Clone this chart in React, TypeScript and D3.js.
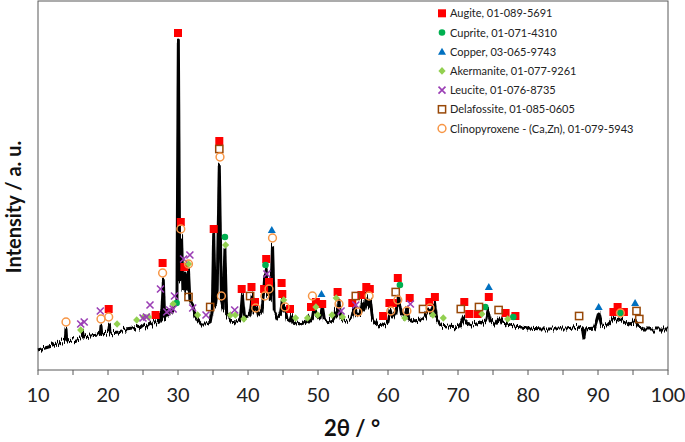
import React from "react";
import * as d3 from "d3";

// XRD trace: [2θ, intensity (a.u.)]
const trace: [number, number][] = [
  [10, 20], [11, 22], [12, 24], [13, 27], [13.9, 29], [14.0, 40], [14.1, 29], [15, 30], [16, 32], [16.3, 33], [16.4, 38], [16.5, 33],
  [17.5, 34], [18.5, 35], [18.9, 36], [19.0, 44], [19.1, 36], [20.0, 37], [20.2, 45], [20.3, 37], [21.5, 38], [22.5, 40], [23.5, 41],
  [24.2, 43], [24.5, 42], [25.0, 45], [25.5, 44], [26.0, 47], [26.3, 46], [26.6, 50], [26.9, 47], [27.3, 48], [27.5, 57], [27.65, 50],
  [27.9, 90], [28.1, 52], [28.3, 54], [28.5, 60], [28.7, 55], [29.0, 57], [29.3, 62], [29.6, 67], [29.85, 70], [30.05, 330], [30.25, 90],
  [30.5, 133], [30.7, 80], [31.0, 97], [31.2, 78], [31.5, 99], [31.7, 70], [32.1, 65], [32.4, 55], [32.8, 50], [33.3, 46], [34.0, 46],
  [34.6, 48], [34.9, 60], [35.1, 137], [35.35, 65], [35.6, 80], [35.9, 205], [36.2, 70], [36.45, 60], [36.7, 122], [36.95, 55],
  [37.5, 49], [38.3, 48], [38.9, 50], [39.2, 75], [39.5, 52], [40.0, 53], [40.3, 56], [40.6, 75], [40.85, 58], [41.2, 65], [41.5, 55],
  [42.0, 58], [42.4, 95], [42.5, 80], [42.6, 100], [42.8, 75], [43.0, 90], [43.2, 70], [43.5, 124], [43.75, 60], [44.2, 53], [44.6, 56],
  [44.9, 70], [45.1, 58], [45.3, 63], [45.6, 52], [46.0, 50], [46.2, 55], [46.4, 48], [47.5, 46], [48.3, 48], [48.5, 52], [48.7, 48],
  [49.2, 52], [49.5, 65], [49.8, 54], [50.3, 52], [50.6, 64], [50.9, 50], [51.5, 48], [52.2, 50], [52.5, 60], [52.7, 55], [53.0, 70],
  [53.3, 52], [54.0, 49], [54.8, 52], [55.2, 64], [55.5, 54], [56.0, 56], [56.3, 68], [56.6, 60], [56.9, 74], [57.2, 62], [57.5, 70],
  [57.8, 52], [58.5, 44], [59.3, 45], [60.0, 48], [60.3, 60], [60.6, 52], [61.1, 58], [61.5, 73], [61.9, 55], [62.3, 52], [62.7, 62],
  [63.0, 50], [63.8, 48], [64.5, 49], [65.2, 52], [65.8, 60], [66.1, 55], [66.6, 68], [66.9, 52], [67.5, 45], [68.5, 44], [70.0, 43],
  [70.5, 47], [70.8, 53], [71.2, 47], [72.0, 45], [72.7, 46], [73.0, 48], [73.4, 47], [74.0, 50], [74.3, 60], [74.6, 50], [75.3, 46],
  [76.0, 52], [76.3, 47], [77.0, 46], [78.0, 44], [79, 43], [80, 42], [82, 41], [84, 41], [85.5, 41], [87.3, 43], [87.8, 41], [88.0, 32],
  [88.2, 41], [89.5, 42], [90.1, 57], [90.5, 45], [91.2, 44], [91.8, 48], [92.2, 52], [92.7, 49], [93.2, 51], [93.8, 48], [94.5, 46],
  [95.0, 47], [95.3, 50], [95.7, 44], [96.5, 41], [98, 41], [100, 41],
];

// phase reference markers: [2θ, marker height (a.u.)]
const augite: [number, number][] = [
  [20.1, 61], [26.8, 55], [27.8, 107], [30.0, 337], [30.4, 148], [30.9, 103], [35.1, 141], [35.9, 229], [39.1, 81], [40.5, 83],
  [41.0, 68], [42.3, 81], [42.6, 111], [43.0, 88], [44.8, 87], [44.9, 76], [46.0, 61], [49.0, 63], [49.7, 68], [50.6, 66], [52.8, 78],
  [54.9, 67], [56.2, 75], [56.9, 83], [57.4, 81], [59.3, 54], [60.2, 67], [60.7, 67], [61.4, 92], [63.1, 72], [65.9, 68], [66.7, 73],
  [70.9, 68], [71.6, 56], [72.8, 56], [74.4, 73], [76.8, 57], [78.2, 54], [92.2, 58], [92.8, 63], [93.7, 58],
];
const cuprite: [number, number][] = [
  [29.8, 67], [36.7, 133], [42.5, 105], [61.7, 85], [73.9, 63], [77.9, 53], [93.2, 57],
];
const copper: [number, number][] = [
  [43.4, 140], [50.5, 76], [74.4, 83], [90.1, 63], [95.3, 67],
];
const akermanite: [number, number][] = [
  [16.1, 40], [21.3, 46], [24.1, 50], [25.1, 53], [25.8, 53], [29.3, 66], [31.5, 106], [32.8, 55], [36.8, 125], [37.5, 55], [38.2, 55],
  [39.4, 51], [45.1, 70], [46.8, 52], [48.5, 52], [49.7, 63], [49.95, 55], [52.0, 55], [52.6, 72], [53.5, 53], [62.4, 52], [66.4, 55],
  [67.9, 52], [73.4, 56], [77.1, 51],
];
const leucite: [number, number][] = [
  [16.1, 46], [16.6, 48], [18.9, 59], [25.0, 52], [25.5, 53], [26.0, 65], [27.5, 81], [28.4, 58], [28.8, 60], [29.3, 61], [29.5, 74],
  [30.8, 111], [31.7, 115], [32.1, 62], [34.0, 55], [38.1, 60], [42.7, 96], [53.3, 59], [55.4, 65], [63.2, 66],
];
const delafossite: [number, number][] = [
  [31.5, 73], [34.6, 63], [35.9, 221], [40.3, 74], [55.4, 74], [61.1, 78], [65.0, 61], [70.4, 61], [73.0, 63], [75.8, 60], [87.3, 54],
  [95.5, 59], [95.9, 51],
];
const clinopyroxene: [number, number][] = [
  [14.0, 48], [19.0, 51], [20.1, 53], [27.8, 97], [30.4, 141], [31.5, 106], [36.0, 213], [36.2, 74], [41.1, 62], [42.4, 74], [43.0, 81],
  [43.5, 132], [45.3, 63], [49.2, 74], [53.0, 66], [55.7, 58], [57.3, 74], [60.4, 59], [61.4, 70], [62.7, 59], [66.0, 62], [93.2, 57],
];

const legendLabels = [
  "Augite, 01-089-5691",
  "Cuprite, 01-071-4310",
  "Copper, 03-065-9743",
  "Akermanite, 01-077-9261",
  "Leucite, 01-076-8735",
  "Delafossite, 01-085-0605",
  "Clinopyroxene - (Ca,Zn), 01-079-5943",
];
const xTicks = [10, 20, 30, 40, 50, 60, 70, 80, 90, 100];

const W = 685, H = 442;
const M = { left: 38, right: 668, top: 1, bottom: 370 };

const RED = "#ff0000", GREEN = "#00b050", BLUE = "#0070c0", LIME = "#92d050", PURPLE = "#9b3fb5", BROWN = "#984807", ORANGE = "#f79646";

function Marker({ type, x, y }: { type: number; x: number; y: number }) {
  switch (type) {
    case 0:
      return <rect x={x - 4} y={y - 4} width={8} height={8} fill={RED} />;
    case 1:
      return <circle cx={x} cy={y} r={3.3} fill={GREEN} />;
    case 2:
      return <path d={`M${x},${y - 4}L${x + 4},${y + 3}L${x - 4},${y + 3}Z`} fill={BLUE} />;
    case 3:
      return <path d={`M${x},${y - 3.8}L${x + 3.6},${y}L${x},${y + 3.8}L${x - 3.6},${y}Z`} fill={LIME} />;
    case 4:
      return (
        <path d={`M${x - 3.5},${y - 3.5}L${x + 3.5},${y + 3.5}M${x + 3.5},${y - 3.5}L${x - 3.5},${y + 3.5}`} stroke={PURPLE} strokeWidth={1.6} fill="none" />
      );
    case 5:
      return <rect x={x - 3.6} y={y - 3.6} width={7.2} height={7.2} fill="none" stroke={BROWN} strokeWidth={1.5} />;
    default:
      return <circle cx={x} cy={y} r={3.9} fill="none" stroke={ORANGE} strokeWidth={1.5} />;
  }
}

export default function App() {
  const x = d3.scaleLinear().domain([10, 100]).range([M.left, M.right]);
  const y = d3.scaleLinear().domain([0, 369]).range([M.bottom, M.top]);
  const line = d3.line<[number, number]>().x((d) => x(d[0])).y((d) => y(d[1]));
  const series = [augite, cuprite, copper, akermanite, leucite, delafossite, clinopyroxene];
  const minorTicks = d3.range(15, 100, 10);
  const font = "Lato, 'Open Sans', sans-serif";

  return (
    <svg width={W} height={H} style={{ position: "absolute", left: 0, top: 0, background: "white" }} fontFamily={font}>
      <defs>
        <filter id="grain" x="-2%" y="-5%" width="104%" height="110%">
          <feTurbulence type="fractalNoise" baseFrequency="1.1 0.04" numOctaves={2} seed={5} result="n" />
          <feColorMatrix in="n" type="matrix" values="0 0 0 0 0.5  0 1.6 0 0 -0.3  0 0 0 0 0  0 0 0 0 1" result="m" />
          <feDisplacementMap in="SourceGraphic" in2="m" scale={7} xChannelSelector="R" yChannelSelector="G" />
        </filter>
      </defs>
      <rect x={M.left} y={M.top} width={M.right - M.left} height={M.bottom - M.top} fill="none" stroke="#595959" strokeWidth={1} />
      {[...xTicks, ...minorTicks].map((t) => (
        <line key={"t" + t} x1={x(t)} x2={x(t)} y1={M.bottom} y2={M.bottom + 5} stroke="#595959" />
      ))}
      {xTicks.map((t) => (
        <text key={"l" + t} x={x(t)} y={402} textAnchor="middle" fontSize={20} fill="#222">
          {t}
        </text>
      ))}
      <text x={352} y={436} textAnchor="middle" fontSize={22} fontWeight="bold" fill="#111">
        2θ / °
      </text>
      <text transform="translate(21,207) rotate(-90)" textAnchor="middle" fontSize={20} fontWeight="bold" fill="#111">
        Intensity  / a. u.
      </text>
      <g filter="url(#grain)">
        <path d={line(trace) || ""} fill="none" stroke="#000" strokeWidth={3} strokeLinejoin="round" />
      </g>
      {series.map((s, i) =>
        s.map((d, j) => <Marker key={i + "-" + j} type={i} x={x(d[0])} y={y(d[1])} />)
      )}
      {legendLabels.map((lab, i) => (
        <g key={"lg" + i}>
          <Marker type={i} x={442} y={13.3 + i * 19.2} />
          <text x={450} y={13.3 + i * 19.2 + 4} fontSize={11} fill="#222">
            {lab}
          </text>
        </g>
      ))}
    </svg>
  );
}
